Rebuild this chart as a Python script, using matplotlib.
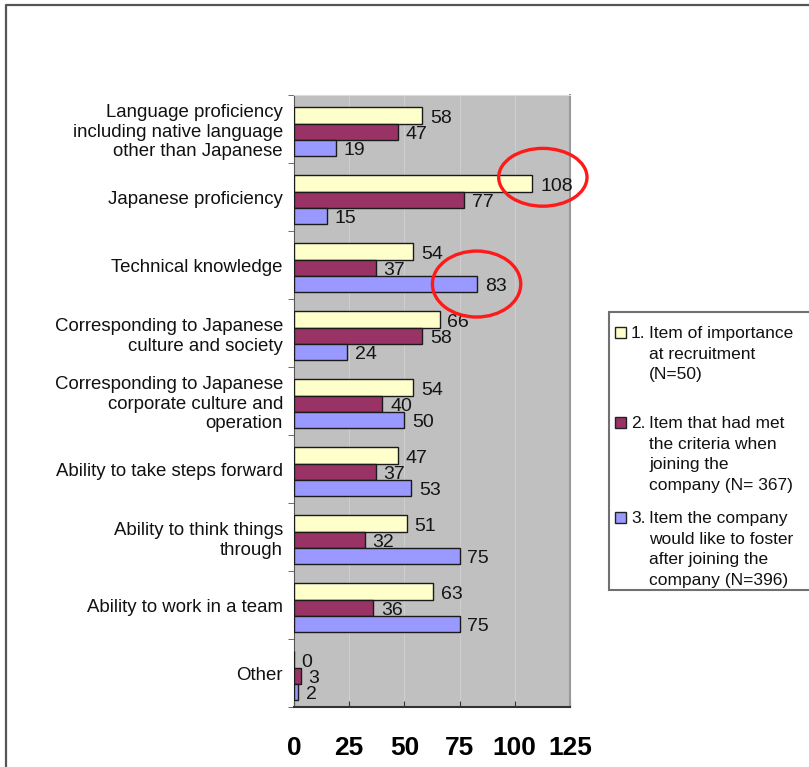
import numpy as np
import matplotlib
matplotlib.use("Agg")
import matplotlib.pyplot as plt
from matplotlib.patches import Ellipse, Rectangle
from matplotlib.lines import Line2D

plt.rcParams['font.family'] = ['Liberation Sans', 'DejaVu Sans']

# data
categories = [
    "Language proficiency\nincluding native language\nother than Japanese",
    "Japanese proficiency",
    "Technical knowledge",
    "Corresponding to Japanese\nculture and society",
    "Corresponding to Japanese\ncorporate culture and\noperation",
    "Ability to take steps forward",
    "Ability to think things\nthrough",
    "Ability to work in a team",
    "Other",
]
recruit = [58, 108, 54, 66, 54, 47, 51, 63, 0]
met = [47, 77, 37, 58, 40, 37, 32, 36, 3]
foster = [19, 15, 83, 24, 50, 53, 75, 75, 2]
series_nums = ["1.", "2.", "3."]
series_labels = [
    "Item of importance\nat recruitment\n(N=50)",
    "Item that had met\nthe criteria when\njoining the\ncompany (N= 367)",
    "Item the company\nwould like to foster\nafter joining the\ncompany (N=396)",
]
xticks = [0, 25, 50, 75, 100, 125]
colors = ["#ffffcc", "#993366", "#9999ff"]

W, H = 809, 767
fig = plt.figure(figsize=(W / 100, H / 100), dpi=100)
ax = fig.add_axes([294 / W, 1 - 707 / H, 276 / W, 612 / H])
ax.set_facecolor("#c0c0c0")

y = np.arange(len(categories))
h = 0.24
offsets = [-0.2, 0.04, 0.28]
for vals, col, off in zip([recruit, met, foster], colors, offsets):
    ax.barh(y + off, vals, height=h, color=col, edgecolor="#1a1a1a", linewidth=1.0, zorder=3)
    for yi, v in zip(y, vals):
        ax.text(v + 3.5, yi + off + 0.04, str(v), ha="left", va="center",
                fontsize=14, color="#151515", zorder=4)

# red circles round the highlighted values
i = 1
ax.add_patch(Ellipse((recruit[i] + 4.7, y[i] + offsets[0] - 0.09), 40, 0.85,
                     fill=False, edgecolor="#ff1a1a", linewidth=2.4, clip_on=False, zorder=5))
i = 2
ax.add_patch(Ellipse((foster[i] - 0.3, y[i] + offsets[2]), 40, 0.97,
                     fill=False, edgecolor="#ff1a1a", linewidth=2.4, clip_on=False, zorder=5))

ax.set_xlim(0, 125)
ax.set_ylim(len(categories) - 0.5, -0.5)
ax.set_xticks(xticks)
ax.set_xticklabels([str(t) for t in xticks], fontsize=19, fontweight="bold")
ax.tick_params(axis="x", direction="in", length=4, pad=21, color="#333333")
ax.set_yticks(y)
ax.set_yticklabels(categories, fontsize=13.4, color="#111111")
ax.tick_params(axis="y", which="major", length=0, pad=8)
ax.set_yticks(np.arange(-0.5, len(categories)), minor=True)
ax.tick_params(axis="y", which="minor", direction="out", length=4, color="#555555")
ax.grid(axis="x", color="#cecece", linewidth=0.8, zorder=0)
ax.set_axisbelow(True)

ax.spines["left"].set_color("#555555")
ax.spines["bottom"].set_color("#333333")
ax.spines["bottom"].set_linewidth(1.5)
ax.spines["top"].set_color("#dddddd")
ax.spines["right"].set_color("#999999")
ax.spines["right"].set_linewidth(1.5)

# legend drawn by hand (hanging numbers, cut off at right edge)
fig.patches.append(Rectangle((609 / W, 1 - 590 / H), 210 / W, 278 / H,
                             transform=fig.transFigure, facecolor="white",
                             edgecolor="#707070", linewidth=1.5))
baselines = [338, 428, 523]
for num, lab, col, b in zip(series_nums, series_labels, colors, baselines):
    fig.patches.append(Rectangle((615 / W, 1 - b / H), 11 / W, 11 / H,
                                 transform=fig.transFigure, facecolor=col,
                                 edgecolor="#222222", linewidth=1.0))
    fig.text(631 / W, 1 - b / H, num, fontsize=12.5, va="baseline", ha="left", color="#111111")
    for k, line in enumerate(lab.split("\n")):
        fig.text(649 / W, 1 - (b + 20.6 * k) / H, line, fontsize=12.5, va="baseline",
                 ha="left", color="#111111")

# outer frame (top and left edges)
fig.add_artist(Line2D([6 / W, 6 / W, 1], [0, 1 - 5 / H, 1 - 5 / H],
                      transform=fig.transFigure, color="#555555", linewidth=1.6))

fig.savefig("out.png", dpi=100)
